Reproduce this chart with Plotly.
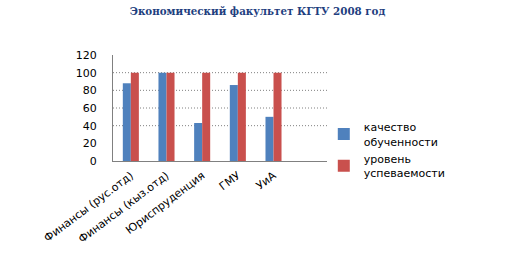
import plotly.graph_objects as go

title = "Экономический факультет КГТУ 2008 год"
categories = ["Финансы (рус.отд)", "Финансы (кыз.отд)", "Юриспруденция", "ГМУ", "УиА"]
quality = [88, 100, 43, 86, 50]
progress = [100, 100, 100, 100, 100]
series_names = ["качество<br>обученности", "уровень<br>успеваемости"]
grid_vals = [40, 60, 80, 100]

L, R, T, B = 113, 183, 55, 93

fig = go.Figure()
fig.add_trace(go.Bar(x=categories, y=quality, name=series_names[0],
                     marker=dict(color="#4F81BD", line=dict(width=0))))
fig.add_trace(go.Bar(x=categories, y=progress, name=series_names[1],
                     marker=dict(color="#C9504D", line=dict(width=0))))

for v in grid_vals:
    fig.add_shape(type="line", xref="paper", yref="y", x0=0, x1=1, y0=v, y1=v,
                  line=dict(color="#808080", width=1, dash="1px,2px"), layer="below")

fig.update_layout(
    width=510, height=254,
    margin=dict(l=L, r=R, t=T, b=B, autoexpand=False),
    paper_bgcolor="white", plot_bgcolor="white",
    barmode="group", bargap=0.55, bargroupgap=0,
    title=dict(text="<b>" + title + "</b>", x=0.505, xref="container", xanchor="center",
               y=0.955, yanchor="middle",
               font=dict(family="DejaVu Serif", size=10.3, color="#1F3F7F")),
    font=dict(family="DejaVu Sans", size=11, color="#000000"),
    showlegend=True,
    legend=dict(x=0.985, xanchor="left", y=0.45, yanchor="top",
                font=dict(family="DejaVu Sans", size=11, color="#000000"),
                tracegroupgap=0, itemwidth=30, bgcolor="rgba(0,0,0,0)"),
    xaxis=dict(type="category", range=[-0.5, 5.5], tickangle=-37, automargin=False,
               showgrid=False, showline=True, linecolor="#808080", linewidth=1,
               ticks="", ticklabelstandoff=3,
               tickfont=dict(family="DejaVu Sans", size=11)),
    yaxis=dict(range=[0, 120], tickvals=[0, 20, 40, 60, 80, 100, 120], automargin=False,
               showgrid=False, zeroline=False, showline=True,
               linecolor="#808080", linewidth=1, ticks="", ticklen=0,
               tickfont=dict(family="DejaVu Sans", size=11), ticklabelstandoff=13),
)

fig.write_html("out.html")
